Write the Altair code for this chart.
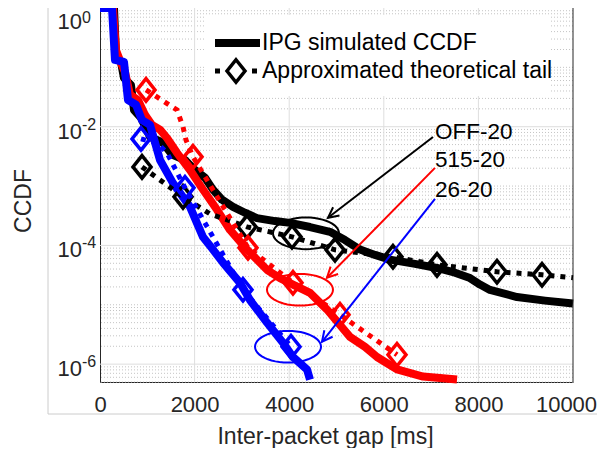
import math
import altair as alt
import pandas as pd

FONT = "Liberation Sans"
W, H = 473, 374
X_MAX = 10000
Y_MIN, Y_MAX = 5e-7, 1.0

# ---------------- data ----------------
# x: inter-packet gap [ms]; e: log10(CCDF)
off_sim_x = [0, 296, 338, 444, 507, 655, 719, 867, 1057, 1332, 1522, 1797, 2008, 2220, 2389, 2579,
             2812, 3065, 3319, 3700, 4017, 4440, 4863, 5180, 5497, 5814, 6131, 6660, 7125, 7505,
             7822, 8034, 8245, 8816, 9408, 10000]
off_sim_e = [0, 0, -0.79, -0.91, -1.18, -1.30, -1.72, -1.85, -2.17, -2.27, -2.47, -2.56, -2.73, -2.86,
             -3.06, -3.23, -3.35, -3.45, -3.54, -3.59, -3.62, -3.69, -3.77, -3.91, -4.07, -4.16, -4.24,
             -4.31, -4.38, -4.46, -4.55, -4.66, -4.75, -4.87, -4.93, -4.98]

red_sim_x = [0, 275, 338, 444, 529, 634, 803, 951, 1099, 1268, 1416, 1628, 1903, 2178, 2474, 2749,
             3108, 3530, 3805, 4080, 4440, 4800, 5074, 5285, 5603, 5856, 6279, 6829, 7548]
red_sim_e = [0, 0, -0.71, -0.93, -1.08, -1.46, -1.55, -1.80, -1.97, -2.05, -2.19, -2.44, -2.73, -3.06,
             -3.40, -3.74, -4.07, -4.41, -4.55, -4.66, -4.80, -5.08, -5.34, -5.54, -5.71, -5.88, -6.09,
             -6.21, -6.26]

blue_sim_x = [0, 254, 317, 507, 592, 761, 888, 1057, 1268, 1543, 1903, 2178, 2389, 2600, 2960, 3171,
              3530, 3869, 4080, 4376, 4440]
blue_sim_e = [0, 0, -0.875, -0.91, -1.55, -1.63, -1.89, -1.97, -2.56, -2.95, -3.35, -3.86, -4.07, -4.29,
              -4.63, -4.92, -5.30, -5.64, -5.88, -6.09, -6.26]

off_th_x = [888, 1755, 2325, 3108, 4059, 4968, 6194, 7125, 8393, 9345, 10000]
off_th_e = [-2.677, -3.182, -3.468, -3.687, -3.855, -4.074, -4.192, -4.327, -4.444, -4.495, -4.545]
off_th_m = [1, 1, 0, 1, 1, 1, 1, 1, 1, 1, 0]

red_th_x = [973, 1205, 1628, 1755, 1818, 1966, 3129, 4080, 5074, 6279]
red_th_e = [-1.380, -1.498, -1.717, -2.003, -2.222, -2.508, -4.040, -4.630, -5.168, -5.842]
red_th_m = [1, 0, 0, 0, 0, 1, 1, 1, 1, 1]

blue_th_x = [867, 1205, 1416, 1797, 3023, 4038]
blue_th_e = [-2.205, -2.273, -2.441, -3.030, -4.747, -5.707]
blue_th_m = [1, 0, 0, 1, 1, 1]

x_ticks = [0, 2000, 4000, 6000, 8000, 10000]
x_major = [2000, 4000, 6000, 8000]
y_major = [1e-6, 1e-4, 1e-2]
y_label_vals = [1e-2, 1e-4, 1e-6]
y_label_exp = ["-2", "-4", "-6"]
y_top_val = [1]
y_top_exp = ["0"]

series_names = ["OFF-20", "515-20", "26-20"]
series_colors = ["#000000", "#ff0000", "#0000ff"]
label_x = [7082, 7082, 7082]
label_e = [-2.088, -2.56, -3.065]
ellipse_x = [4355, 4228, 3975]
ellipse_e = [-3.796, -4.747, -5.707]
arrow_x1 = [7040, 7082, 7082]
arrow_e1 = [-2.172, -2.694, -3.215]
arrow_x2 = [4820, 4799, 4693]
arrow_e2 = [-3.535, -4.545, -5.623]

legend_texts = ["IPG simulated CCDF", "Approximated theoretical tail"]

# ---------------- helpers ----------------
xs = alt.Scale(domain=[0, X_MAX], nice=False, zero=False)
ys = alt.Scale(type="log", domain=[Y_MIN, Y_MAX], nice=False)

AX_X = alt.Axis(
    values=x_ticks, format="d", labelFontSize=22, labelFont=FONT, labelColor="#262626",
    labelPadding=12, labelFlush=False, labelOverlap=False, ticks=False, tickSize=0,
    labelOffset={"condition": {"test": "datum.value == 10000", "value": -7}, "value": 0},
    grid=False, domainColor="#262626", domainWidth=1,
    title="Inter-packet gap [ms]", titleFont=FONT, titleFontSize=23,
    titleFontWeight="normal", titleColor="#262626", titlePadding=10, titleX=225)
AX_Y = alt.Axis(labels=False, ticks=False, tickSize=0, grid=False, domainColor="#262626",
                domainWidth=1, title=None)


def ev(es):
    return [10 ** e for e in es]


def X(f):
    return alt.X(f, type="quantitative", scale=xs, axis=AX_X)


def Y(f):
    return alt.Y(f, type="quantitative", scale=ys, axis=AX_Y)


one = pd.DataFrame({"a": [0]})

DIAMOND = "M0,-1.25L1,0L0,1.25L-1,0Z"
ARROW = "M-1,-0.5L0,0L-1,0.5"
pts = []
for i in range(49):
    t = 2 * math.pi * i / 48
    pts.append(f"{math.cos(t):.4f},{0.48 * math.sin(t):.4f}")
ELLIPSE = "M" + "L".join(pts) + "Z"

layers = []

# grid
minor_vals = []
for e in range(-7, 0):
    for m in range(1, 10):
        v = m * 10 ** e
        if Y_MIN <= v < 1 and not any(abs(v - mv) / mv < 1e-9 for mv in y_major):
            minor_vals.append(v)
layers.append(alt.Chart(pd.DataFrame({"v": minor_vals})).mark_rule(
    color="#c4c4c4", strokeWidth=1, strokeDash=[1, 2]).encode(y=Y("v")))
layers.append(alt.Chart(pd.DataFrame({"v": y_major})).mark_rule(
    color="#dedede", strokeWidth=1).encode(y=Y("v")))
layers.append(alt.Chart(pd.DataFrame({"v": x_major})).mark_rule(
    color="#dedede", strokeWidth=1).encode(x=X("v")))

# legend background
layers.append(alt.Chart(one).mark_rect(color="white").encode(
    x=alt.value(105), x2=alt.value(450), y=alt.value(7), y2=alt.value(88)))

# faint outer frame lines
layers.append(alt.Chart(one).mark_rule(color="#cccccc", strokeWidth=1).encode(
    x=alt.value(-52), y=alt.value(-8), y2=alt.value(406)))
layers.append(alt.Chart(one).mark_rule(color="#cccccc", strokeWidth=1).encode(
    x=alt.value(-52), x2=alt.value(505), y=alt.value(406)))

# simulated CCDF lines
for sx, se, col in [(off_sim_x, off_sim_e, series_colors[0]),
                    (red_sim_x, red_sim_e, series_colors[1]),
                    (blue_sim_x, blue_sim_e, series_colors[2])]:
    df = pd.DataFrame({"x": sx, "y": ev(se)})
    layers.append(alt.Chart(df).mark_line(color=col, strokeWidth=8, strokeJoin="round").encode(
        x=X("x"), y=Y("y")))

# right border
layers.append(alt.Chart(pd.DataFrame({"r": [X_MAX]})).mark_rule(
    color="#262626", strokeWidth=1).encode(x=X("r")))

# theoretical tails
for tx, te, tm, col in [(off_th_x, off_th_e, off_th_m, series_colors[0]),
                        (red_th_x, red_th_e, red_th_m, series_colors[1]),
                        (blue_th_x, blue_th_e, blue_th_m, series_colors[2])]:
    df = pd.DataFrame({"x": tx, "y": ev(te), "m": tm})
    layers.append(alt.Chart(df).mark_line(color=col, strokeWidth=5, strokeDash=[5, 6],
                                          strokeCap="butt").encode(x=X("x"), y=Y("y")))
    layers.append(alt.Chart(df[df["m"] == 1]).mark_point(
        shape=DIAMOND, size=324, filled=False, strokeWidth=3.5, color=col, opacity=1).encode(
        x=X("x"), y=Y("y")))


# annotations
def px(x):
    return x / X_MAX * W


def py(e):
    return -e / (math.log10(Y_MAX) - math.log10(Y_MIN)) * H


ann = pd.DataFrame({
    "name": series_names, "c": series_colors,
    "lx": label_x, "ly": ev(label_e),
    "ex": ellipse_x, "ey": ev(ellipse_e),
    "x1": arrow_x1, "y1": ev(arrow_e1), "x2": arrow_x2, "y2": ev(arrow_e2),
    "ang": [math.degrees(math.atan2(py(b2) - py(b1), px(a2) - px(a1))) % 360
            for a1, b1, a2, b2 in zip(arrow_x1, arrow_e1, arrow_x2, arrow_e2)],
})
colenc = alt.Color("c:N", scale=None)
layers.append(alt.Chart(ann).mark_point(shape=ELLIPSE, size=4356, filled=False, strokeWidth=2,
                                        opacity=1).encode(x=X("ex"), y=Y("ey"), color=colenc))
layers.append(alt.Chart(ann).mark_rule(strokeWidth=2).encode(
    x=X("x1"), y=Y("y1"), x2="x2:Q", y2="y2:Q", color=colenc))
layers.append(alt.Chart(ann).mark_point(shape=ARROW, size=440, filled=False, strokeWidth=2,
                                        opacity=1).encode(
    x=X("x2"), y=Y("y2"), angle=alt.Angle("ang:Q", scale=None), color=colenc))
layers.append(alt.Chart(ann).mark_text(align="left", baseline="middle", fontSize=22.5, font=FONT,
                                       color="black").encode(x=X("lx"), y=Y("ly"), text="name:N"))

# legend
layers.append(alt.Chart(one).mark_rule(color="black", strokeWidth=8, strokeCap="butt").encode(
    x=alt.value(115), x2=alt.value(160), y=alt.value(35)))
layers.append(alt.Chart(one).mark_rule(color="black", strokeWidth=5, strokeDash=[5, 32],
                                       strokeCap="butt").encode(
    x=alt.value(115), x2=alt.value(158), y=alt.value(63)))
layers.append(alt.Chart(one).mark_point(shape=DIAMOND, size=324, filled=False, strokeWidth=3.5,
                                        color="black", opacity=1).encode(
    x=alt.value(136), y=alt.value(63)))
for t, yy in zip(legend_texts, [35, 63]):
    layers.append(alt.Chart(one).mark_text(align="left", baseline="middle", fontSize=23, font=FONT,
                                           color="black").encode(
        x=alt.value(162), y=alt.value(yy), text=alt.value(t)))

# y tick labels (10 with superscript exponent)
ylab = pd.DataFrame({"v": y_label_vals, "exp": y_label_exp})
layers.append(alt.Chart(ylab).mark_text(align="right", baseline="alphabetic", dy=12, fontSize=22,
                                        font=FONT, color="#262626").encode(
    y=Y("v"), x=alt.value(-18), text=alt.value("10")))
layers.append(alt.Chart(ylab).mark_text(align="left", baseline="alphabetic", dy=3, fontSize=16,
                                        font=FONT, color="#262626").encode(
    y=Y("v"), x=alt.value(-18), text="exp:N"))
ytop = pd.DataFrame({"v": y_top_val, "exp": y_top_exp})
layers.append(alt.Chart(ytop).mark_text(align="right", baseline="alphabetic", dy=21, fontSize=22,
                                        font=FONT, color="#262626").encode(
    y=Y("v"), x=alt.value(-18), text=alt.value("10")))
layers.append(alt.Chart(ytop).mark_text(align="left", baseline="alphabetic", dy=14.5, fontSize=16,
                                        font=FONT, color="#262626").encode(
    y=Y("v"), x=alt.value(-18), text="exp:N"))

# y axis title
layers.append(alt.Chart(one).mark_text(angle=270, align="center", baseline="middle", fontSize=23,
                                       font=FONT, color="#262626").encode(
    x=alt.value(-76), y=alt.value(193), text=alt.value("CCDF")))

chart = alt.layer(*layers).properties(
    width=W, height=H,
    padding={"left": 92, "top": 0, "right": 24, "bottom": 66},
    autosize=alt.AutoSizeParams(type="none"),
    background="white",
).configure_view(stroke=None)

chart.save("out.html", embed_options={"renderer": "svg", "actions": False})
